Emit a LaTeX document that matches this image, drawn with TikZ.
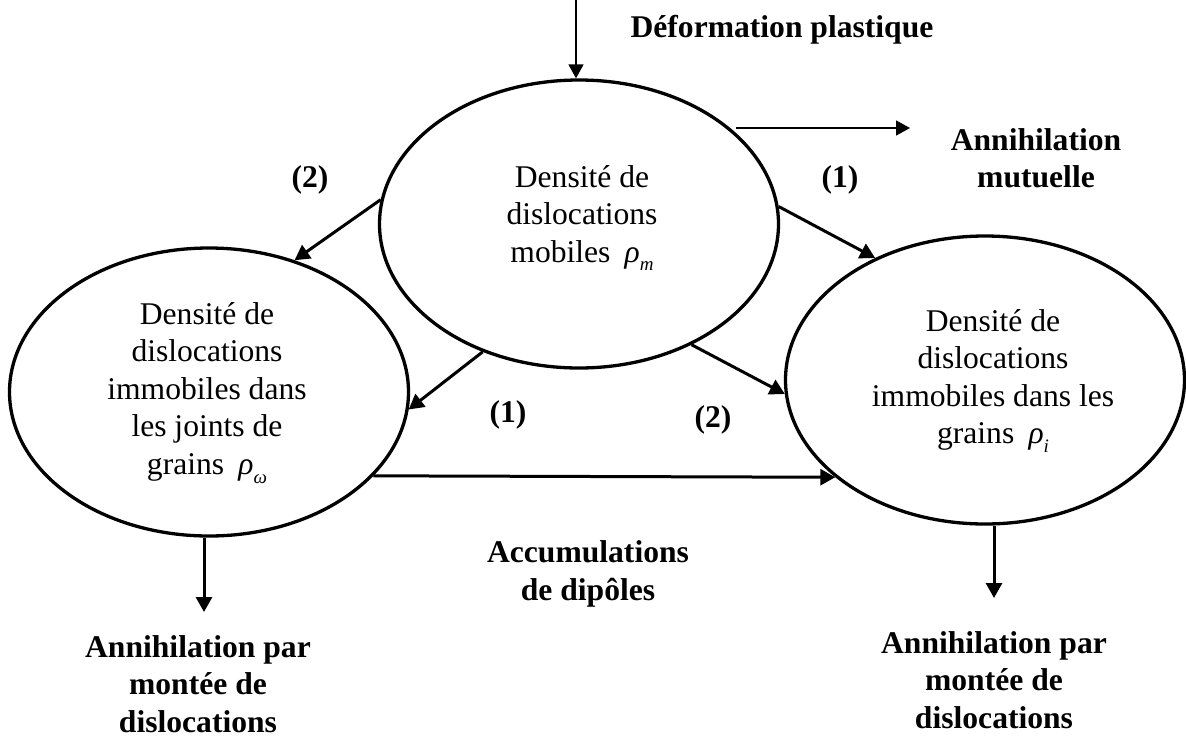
\documentclass[tikz,border=0pt]{standalone}
\usepackage{fontspec}
\setmainfont{Liberation Serif}
\usetikzlibrary{shapes.geometric,arrows.meta}
\newcommand{\rhosub}[1]{\hspace{0.45em}{\itshape ρ}\raisebox{-0.28em}{\fontsize{19}{19}\selectfont\itshape #1}}
\begin{document}
\begin{tikzpicture}[x=1pt,y=-1pt,
  ell/.style={draw, ellipse, line width=3.3pt, minimum width=399pt, minimum height=288pt, inner sep=0pt},
  txt/.style={align=center, font=\fontsize{31.6}{37.5}\selectfont, inner sep=0pt},
  lbl/.style={align=center, font=\fontsize{31.6}{37.5}\selectfont\bfseries, inner sep=0pt},
  thickarrow/.style={line width=3pt, -{Triangle[length=15pt,width=16pt]}},
  thinarrow/.style={line width=1.6pt, -{Triangle[length=14pt,width=15pt]}}
]
\useasboundingbox (0,0) rectangle (1186,740);

% ellipses
\node[ell] (T) at (579,224) {};
\node[ell] (L) at (209,392) {};
\node[ell] (R) at (985,380) {};

% ellipse texts
\node[txt] (Tt) at (582,218) {Densité de\\dislocations\\mobiles\rhosub{m}};
\node[txt] (Lt) at (207,393) {Densité de\\dislocations\\immobiles dans\\les joints de\\grains\rhosub{ω}};
\node[txt] (Rt) at (993,381) {Densité de\\dislocations\\immobiles dans les\\grains\rhosub{i}};

% labels
\node[lbl] (def) at (782,30) {Déformation plastique};
\node[lbl] (mut) at (1036,158) {Annihilation\\mutuelle};
\node[lbl] (n2a) at (310,180) {(2)};
\node[lbl] (n1a) at (840,180) {(1)};
\node[lbl] (n1b) at (508,415) {(1)};
\node[lbl] (n2b) at (713,420) {(2)};
\node[lbl] (acc) at (588,574) {Accumulations\\de dipôles};
\node[lbl] (annL) at (198,684) {Annihilation par\\montée de\\dislocations};
\node[lbl] (annR) at (994,680) {Annihilation par\\montée de\\dislocations};

% connectors
\coordinate (top0) at (576,0);
\draw[thinarrow] (top0) -- (top0 |- T.north);
\coordinate (m0) at (736,128);
\coordinate (m1) at (910,128);
\draw[thinarrow] (m0) -- (m1);
\draw[thickarrow] (T.173.6) -- (L.57.9);
\draw[thickarrow] (T.5.4) -- (R.132.2);
\draw[thickarrow] (T.233.1) -- (L.355.4);
\draw[thickarrow] (T.313.8) -- (R.184);
\draw[thickarrow] (L.333.3) -- (R.213);
\coordinate (dL) at (204,612);
\draw[thickarrow] (dL |- L.south) -- (dL);
\coordinate (dR) at (994,598);
\draw[thickarrow] (dR |- R.south) -- (dR);
\end{tikzpicture}
\end{document}
